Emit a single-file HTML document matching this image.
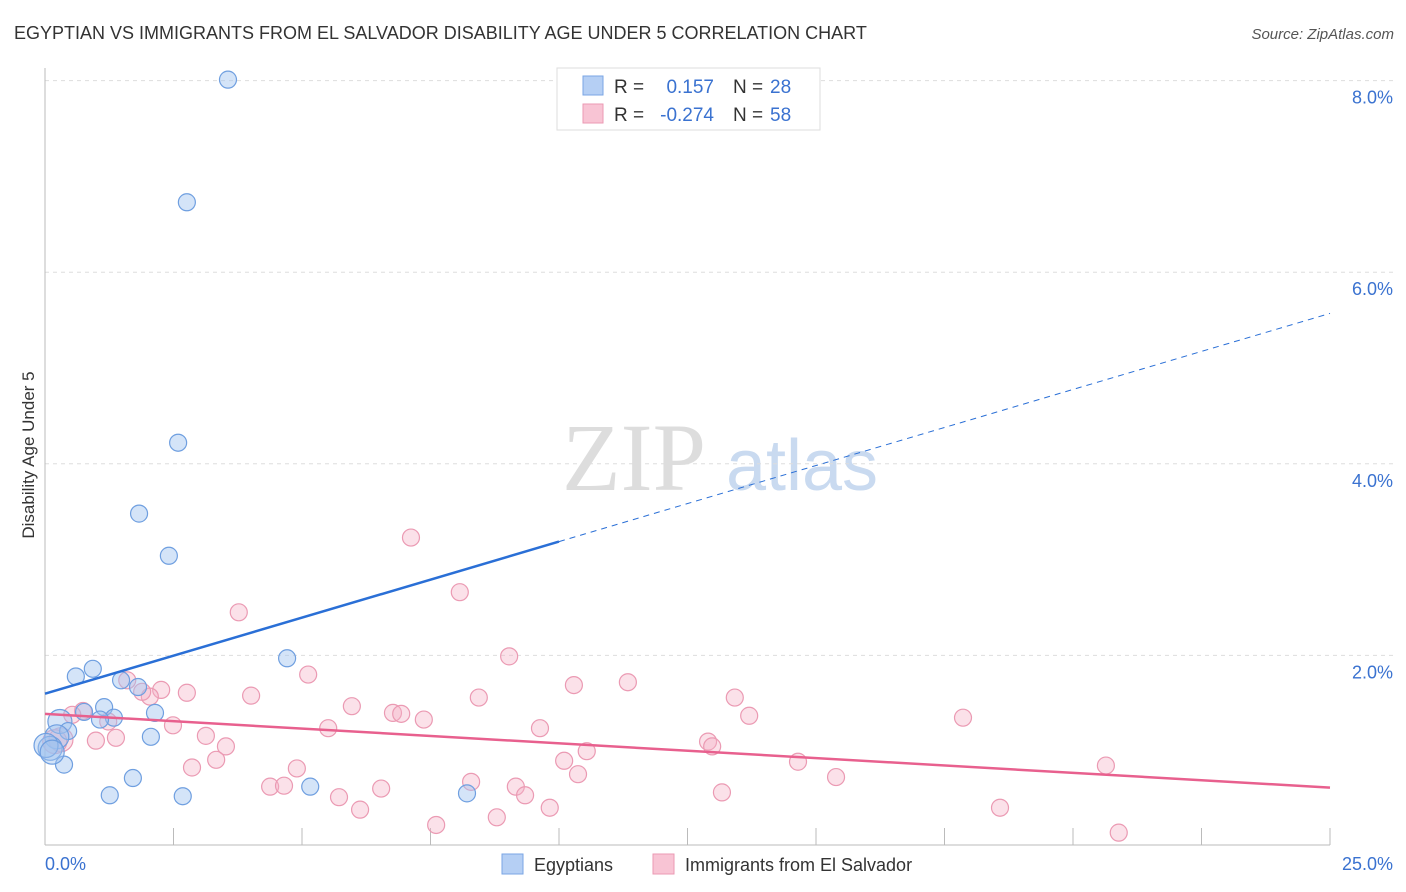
<!DOCTYPE html>
<html><head><meta charset="utf-8">
<style>
body{margin:0;background:#fff;font-family:"Liberation Sans",sans-serif;}
svg{display:block}
</style></head>
<body>
<svg id="chart" width="1406" height="892" xmlns="http://www.w3.org/2000/svg" font-family="Liberation Sans, sans-serif">
<text x="14" y="39" font-size="18" fill="#333">EGYPTIAN VS IMMIGRANTS FROM EL SALVADOR DISABILITY AGE UNDER 5 CORRELATION CHART</text>
<text x="1394" y="39" font-size="15" fill="#555" text-anchor="end" font-style="italic">Source: ZipAtlas.com</text>
<text transform="translate(34,455) rotate(-90)" font-size="17" fill="#333" text-anchor="middle">Disability Age Under 5</text>
<g>
<text x="634" y="490" font-size="96" font-family="Liberation Serif, serif" fill="#ddd" text-anchor="middle">ZIP</text>
<text x="802" y="490" font-size="72" fill="#c9daf0" text-anchor="middle">atlas</text>
</g>
<g id="grid"></g>
<g id="axes"></g>
<g id="pts"></g>
<g id="trends"></g>
<g>
<rect x="557" y="68" width="263" height="62" fill="#fff" stroke="#ddd"/>
<rect x="583" y="76" width="20" height="19" fill="#b5cff4" stroke="#7aa6e4"/>
<rect x="583" y="104" width="20" height="19" fill="#f8c4d4" stroke="#eb9ab3"/>
<text x="614" y="93" font-size="19" fill="#333">R =</text>
<text x="714" y="93" font-size="19" fill="#3a72d0" text-anchor="end">0.157</text>
<text x="733" y="93" font-size="19" fill="#333">N =</text>
<text x="770" y="93" font-size="19" fill="#3a72d0">28</text>
<text x="614" y="121" font-size="19" fill="#333">R =</text>
<text x="714" y="121" font-size="19" fill="#3a72d0" text-anchor="end">-0.274</text>
<text x="733" y="121" font-size="19" fill="#333">N =</text>
<text x="770" y="121" font-size="19" fill="#3a72d0">58</text>
</g>
<g>
<rect x="502" y="854" width="21" height="20" fill="#b5cff4" stroke="#7aa6e4"/>
<text x="534" y="871" font-size="18" fill="#333">Egyptians</text>
<rect x="653" y="854" width="21" height="20" fill="#f8c4d4" stroke="#eb9ab3"/>
<text x="685" y="871" font-size="18" fill="#333">Immigrants from El Salvador</text>
</g>
</svg>
<script>
const blueX=[3.56,2.76,2.59,1.83,2.41,4.71,0.93,0.60,1.48,1.81,1.15,0.76,2.14,1.34,1.07,0.29,0.45,0.23,2.06,0.10,0.37,1.71,1.26,2.68,5.16,8.21,0.02,0.14];
const blueY=[8.01,6.73,4.22,3.48,3.04,1.97,1.86,1.78,1.74,1.67,1.46,1.41,1.40,1.35,1.33,1.31,1.21,1.15,1.15,1.03,0.86,0.72,0.54,0.53,0.63,0.56,1.06,0.99];
const pinkX=[7.12,8.07,3.77,9.03,5.12,1.60,2.76,4.01,2.26,8.44,10.29,11.34,13.42,2.04,1.89,5.97,6.77,6.93,7.37,13.70,17.86,0.74,0.53,2.49,5.51,9.63,3.13,1.38,0.99,0.31,3.52,12.90,12.98,10.54,3.33,2.86,10.10,14.65,20.64,10.37,15.39,8.29,4.38,4.65,6.54,4.90,9.16,9.34,13.17,5.72,6.13,9.82,18.58,8.79,7.61,20.89,0.19,1.23];
const pinkY=[3.23,2.66,2.45,1.99,1.80,1.74,1.61,1.58,1.64,1.56,1.69,1.72,1.56,1.57,1.62,1.47,1.40,1.39,1.33,1.37,1.35,1.42,1.38,1.27,1.24,1.24,1.16,1.14,1.11,1.12,1.05,1.10,1.05,1.00,0.91,0.83,0.90,0.89,0.85,0.76,0.73,0.68,0.63,0.64,0.61,0.82,0.63,0.54,0.57,0.52,0.39,0.41,0.41,0.31,0.23,0.15,1.10,1.31];
const yTicks=[2,4,6,8];
const xTickLabels=["0.0%","25.0%"];
const blueTrend=[1.60,5.57]; // y at x=0 and x=25
const pinkTrend=[1.39,0.62];
const X0=45,X1=1330,Y0=847,PY=95.8;
const sx=v=>X0+(v/25)*(X1-X0);
const sy=v=>Y0-v*PY;
const NS="http://www.w3.org/2000/svg";
function mk(tag,attrs,parent){const e=document.createElementNS(NS,tag);for(const k in attrs)e.setAttribute(k,attrs[k]);parent.appendChild(e);return e;}
const grid=document.getElementById('grid'),axes=document.getElementById('axes'),pts=document.getElementById('pts'),tr=document.getElementById('trends');
yTicks.forEach(t=>{
  const l=mk('line',{x1:X0,x2:1393,y1:sy(t),y2:sy(t),stroke:'#ddd','stroke-dasharray':'4,4'},grid);
  
  
  const tx=mk('text',{x:1393,y:sy(t)+23,'font-size':18,fill:'#3a72d0','text-anchor':'end'},axes);
  tx.textContent=t.toFixed(1)+'%';
  
  
});
const ax=mk('line',{x1:X0,x2:X0,y1:68,y2:845,stroke:'#bbb'},axes);


const bx=mk('line',{x1:X0,x2:X1,y1:845,y2:845,stroke:'#bbb'},axes);


for(let i=1;i<=10;i++){
  const t=mk('line',{x1:sx(i*2.5),x2:sx(i*2.5),y1:828,y2:845,stroke:'#bbb'},axes);
  
  
}
const xl0=mk('text',{x:45,y:870,'font-size':18,fill:'#3a72d0'},axes);xl0.textContent=xTickLabels[0];


const xl1=mk('text',{x:1393,y:870,'font-size':18,fill:'#3a72d0','text-anchor':'end'},axes);xl1.textContent=xTickLabels[1];


function dots(xs,ys,fill,stroke,name){
  xs.forEach((x,i)=>{
    const big=(x<0.4&&ys[i]>0.9&&ys[i]<1.35);
    const c=mk('circle',{cx:sx(x),cy:sy(ys[i]),r:big?12:8.5,fill:fill,stroke:stroke,'stroke-width':1.2},pts);
    
    
  });
}
dots(pinkX,pinkY,'rgba(245,175,198,0.38)','#eb9ab3','pink-point');
dots(blueX,blueY,'rgba(160,196,240,0.45)','#6f9fe0','blue-point');
const bxEnd=10;
const byAt=x=>blueTrend[0]+(blueTrend[1]-blueTrend[0])*x/25;
const b1=mk('line',{x1:sx(0),y1:sy(byAt(0)),x2:sx(bxEnd),y2:sy(byAt(bxEnd)),stroke:'#2a6fd6','stroke-width':2.5},tr);


const b2=mk('line',{x1:sx(bxEnd),y1:sy(byAt(bxEnd)),x2:sx(25),y2:sy(byAt(25)),stroke:'#2a6fd6','stroke-width':1,'stroke-dasharray':'6,5'},tr);


const p1=mk('line',{x1:sx(0),y1:sy(pinkTrend[0]),x2:sx(25),y2:sy(pinkTrend[1]),stroke:'#e8608e','stroke-width':2.5},tr);


</script>
</body></html>
